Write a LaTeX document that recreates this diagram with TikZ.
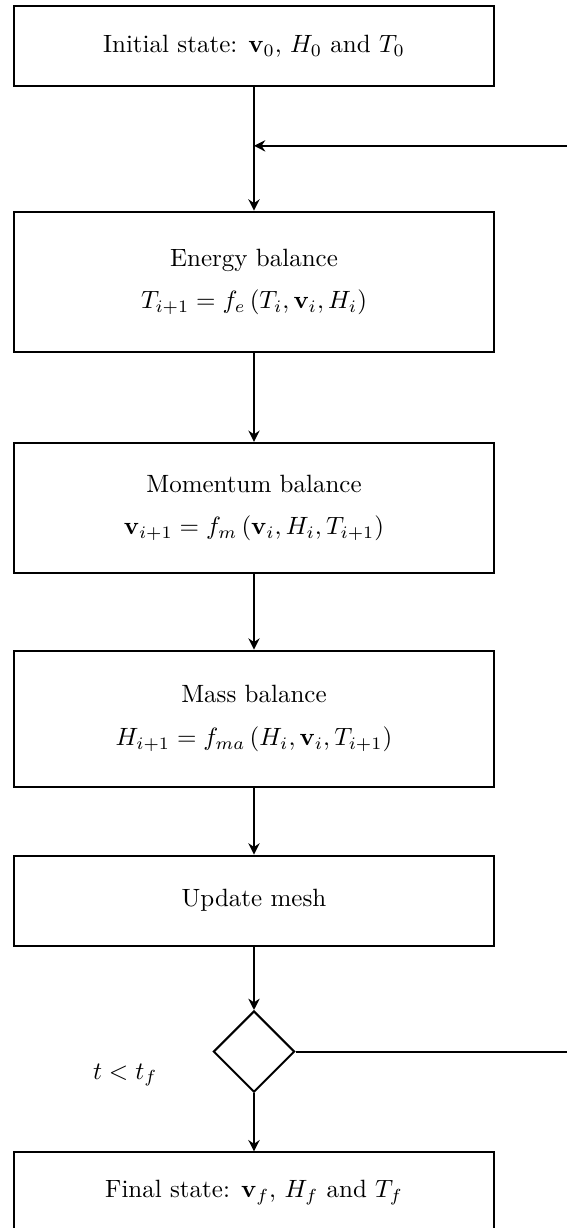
\documentclass[tikz,border=0pt]{standalone}
\usepackage{amsmath,amssymb}
\usepackage{tikz}
\usetikzlibrary{shapes.geometric,arrows.meta,positioning,calc}

\begin{document}
\begin{tikzpicture}[
  block/.style={draw, thick, rectangle, minimum width=6.76cm, align=center},
  decision/.style={draw, thick, diamond, minimum width=1.14cm, minimum height=1.14cm, inner sep=0pt},
  flow/.style={draw, thick, -{Stealth[length=4.5pt,width=4.5pt]}}
]
\useasboundingbox (0,0) rectangle (7.96,17.26);

% Initial and balance blocks
\node[block, minimum height=1.125cm] (init) at (3.57,16.61)
  {Initial state: $\mathbf{v}_0$, $H_0$ and $T_0$};
\coordinate (loopin) at (3.57,15.21);
\node[block, minimum height=1.97cm] (energy) at (3.57,13.30)
  {Energy balance\\[5pt] $T_{i+1}=f_e\left(T_i,\mathbf{v}_i,H_i\right)$};
\node[block, minimum height=1.83cm] (momentum) at (3.57,10.12)
  {Momentum balance\\[5pt] $\mathbf{v}_{i+1}=f_m\left(\mathbf{v}_i,H_i,T_{i+1}\right)$};
\node[block, minimum height=1.91cm] (mass) at (3.57,7.16)
  {Mass balance\\[5pt] $H_{i+1}=f_{ma}\left(H_i,\mathbf{v}_i,T_{i+1}\right)$};
\node[block, minimum height=1.27cm] (mesh) at (3.57,4.60) {Update mesh};

% Time check
\node[decision] (check) at (3.57,2.48) {};
\node (cond) at (1.76,2.15) {$t<t_f$};
\coordinate (loopcorner) at (8.6,2.48);

% Final state
\node[block, minimum height=1.125cm] (final) at (3.57,0.50)
  {Final state: $\mathbf{v}_f$, $H_f$ and $T_f$};

% Connectors
\draw[thick] (init) -- (loopin);
\draw[flow] (loopin) -- (energy);
\draw[flow] (energy) -- (momentum);
\draw[flow] (momentum) -- (mass);
\draw[flow] (mass) -- (mesh);
\draw[flow] (mesh) -- (check);
\draw[flow] (check) -- (final);
\draw[flow] (check.east) -- (loopcorner) |- (loopin);
\end{tikzpicture}
\end{document}
